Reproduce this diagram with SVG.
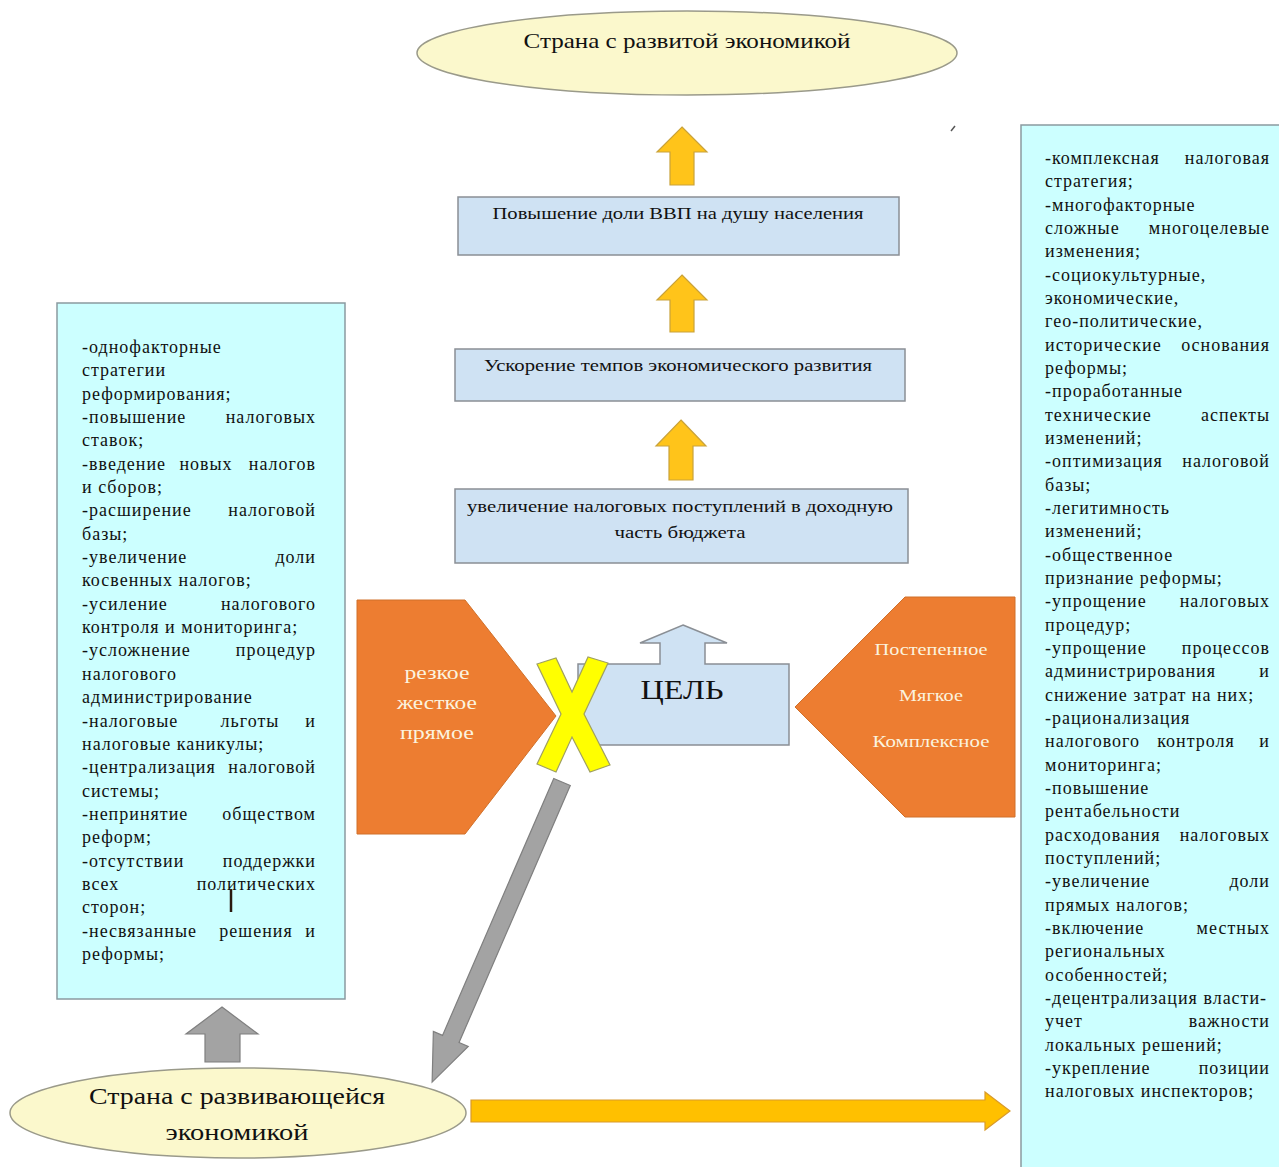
<svg xmlns="http://www.w3.org/2000/svg" width="1279" height="1167" viewBox="0 0 1279 1167">
<style>
.bg{fill:#ffffff}
.ell{fill:#fbf8cc;stroke:#9a9a8a;stroke-width:1.5}
.box{fill:#cfe2f3;stroke:#8a8f95;stroke-width:1.5}
.cyan{fill:#ccffff;stroke:#8a9aa0;stroke-width:1.5}
.yarr{fill:#ffc41a;stroke:#c9a23a;stroke-width:1.2}
.garr{fill:#a3a3a3;stroke:#7f7f7f;stroke-width:1.2}
.orange{fill:#ed7d31;stroke:#d0702a;stroke-width:1}
.xmark{fill:#ffff00;stroke:#a0a060;stroke-width:1.2}
.t{font-family:"Liberation Serif","Times New Roman",serif;font-size:18px;fill:#111111;letter-spacing:1px}
.e{text-anchor:end}
.m{text-anchor:middle}
.c{font-family:"Liberation Serif","Times New Roman",serif;fill:#111111;text-anchor:middle}
.w{font-family:"Liberation Serif","Times New Roman",serif;fill:#fbf3df;text-anchor:middle}
</style>
<rect class="bg" x="0" y="0" width="1279" height="1167"/>

<g id="connectors">
  <path class="yarr" d="M682,127 L707,152 L694,152 L694,185 L670,185 L670,152 L657,152 Z"/>
  <path class="yarr" d="M682,275 L707,300 L694,300 L694,332 L670,332 L670,300 L657,300 Z"/>
  <path class="yarr" d="M681,420 L706,446 L693,446 L693,480 L669,480 L669,446 L656,446 Z"/>
  <g transform="translate(562,782) rotate(23.4)">
    <path class="garr" d="M-9,0 L9,0 L9,280 L19,280 L0,327 L-19,280 L-9,280 Z"/>
  </g>
  <path class="garr" d="M222,1007 L258,1034 L240,1034 L240,1062 L205,1062 L205,1034 L186,1034 Z"/>
  <path class="yarr" d="M471,1100 L985,1100 L985,1092 L1010,1111 L985,1130 L985,1122 L471,1122 Z" style="fill:#ffc000;stroke:#d99a2a"/>
</g>

<g id="node-developed">
  <ellipse class="ell" cx="687" cy="53" rx="270" ry="42"/>
  <text class="c" x="687" y="48" font-size="22" textLength="327" lengthAdjust="spacingAndGlyphs">Страна с развитой экономикой</text>
</g>

<g id="node-gdp">
  <rect class="box" x="458" y="197" width="441" height="58"/>
  <text class="c" x="678" y="219" font-size="17" textLength="371" lengthAdjust="spacingAndGlyphs">Повышение доли ВВП на душу населения</text>
</g>

<g id="node-growth">
  <rect class="box" x="455" y="349" width="450" height="52"/>
  <text class="c" x="678" y="371" font-size="17" textLength="388" lengthAdjust="spacingAndGlyphs">Ускорение темпов экономического развития</text>
</g>

<g id="node-revenue">
  <rect class="box" x="455" y="489" width="453" height="74"/>
  <text class="c" x="680" y="512" font-size="17" textLength="426" lengthAdjust="spacingAndGlyphs">увеличение налоговых поступлений в доходную</text>
  <text class="c" x="680" y="538" font-size="17" textLength="131" lengthAdjust="spacingAndGlyphs">часть бюджета</text>
</g>

<g id="node-goal">
  <path class="box" d="M683,625 L727,643 L705,643 L705,664 L789,664 L789,745 L578,745 L578,664 L660,664 L660,643 L640,643 Z"/>
  <text class="c" x="682" y="699" font-size="28" textLength="83" lengthAdjust="spacingAndGlyphs">ЦЕЛЬ</text>
</g>

<g id="node-hard">
  <path class="orange" d="M357,600 L465,600 L556,716 L465,834 L357,834 Z"/>
  <text class="w" x="437" y="679" font-size="19" textLength="65" lengthAdjust="spacingAndGlyphs">резкое</text>
  <text class="w" x="437" y="709" font-size="19" textLength="80" lengthAdjust="spacingAndGlyphs">жесткое</text>
  <text class="w" x="437" y="739" font-size="19" textLength="74" lengthAdjust="spacingAndGlyphs">прямое</text>
</g>

<g id="node-x">
  <path class="xmark" d="M537,664 L556,658 L572,692 L588,657 L608,663 L584,714 L610,765 L590,772 L572,737 L556,772 L537,764 L561,714 Z"/>
</g>

<g id="node-soft">
  <path class="orange" d="M795,707 L905,597 L1015,597 L1015,817 L905,817 Z"/>
  <text class="w" x="931" y="655" font-size="16" textLength="113" lengthAdjust="spacingAndGlyphs">Постепенное</text>
  <text class="w" x="931" y="701" font-size="16" textLength="64" lengthAdjust="spacingAndGlyphs">Мягкое</text>
  <text class="w" x="931" y="747" font-size="16" textLength="117" lengthAdjust="spacingAndGlyphs">Комплексное</text>
</g>

<g id="node-developing">
  <ellipse class="ell" cx="238" cy="1113" rx="228" ry="45"/>
  <text class="c" x="237" y="1104" font-size="23" textLength="296" lengthAdjust="spacingAndGlyphs">Страна с развивающейся</text>
  <text class="c" x="237" y="1140" font-size="23" textLength="143" lengthAdjust="spacingAndGlyphs">экономикой</text>
</g>

<g id="node-left-list">
  <rect class="cyan" x="57" y="303" width="288" height="696"/>
  <text class="t" x="82" y="353">-однофакторные</text>
  <text class="t" x="82" y="376">стратегии</text>
  <text class="t" x="82" y="400">реформирования;</text>
  <text class="t" x="82" y="423">-повышение</text><text class="t e" x="316" y="423">налоговых</text>
  <text class="t" x="82" y="446">ставок;</text>
  <text class="t" x="82" y="470">-введение</text><text class="t m" x="206" y="470">новых</text><text class="t e" x="316" y="470">налогов</text>
  <text class="t" x="82" y="493">и сборов;</text>
  <text class="t" x="82" y="516">-расширение</text><text class="t e" x="316" y="516">налоговой</text>
  <text class="t" x="82" y="540">базы;</text>
  <text class="t" x="82" y="563">-увеличение</text><text class="t e" x="316" y="563">доли</text>
  <text class="t" x="82" y="586">косвенных налогов;</text>
  <text class="t" x="82" y="610">-усиление</text><text class="t e" x="316" y="610">налогового</text>
  <text class="t" x="82" y="633">контроля и мониторинга;</text>
  <text class="t" x="82" y="656">-усложнение</text><text class="t e" x="316" y="656">процедур</text>
  <text class="t" x="82" y="680">налогового</text>
  <text class="t" x="82" y="703">администрирование</text>
  <text class="t" x="82" y="727">-налоговые</text><text class="t m" x="250" y="727">льготы</text><text class="t e" x="316" y="727">и</text>
  <text class="t" x="82" y="750">налоговые каникулы;</text>
  <text class="t" x="82" y="773">-централизация</text><text class="t e" x="316" y="773">налоговой</text>
  <text class="t" x="82" y="797">системы;</text>
  <text class="t" x="82" y="820">-непринятие</text><text class="t e" x="316" y="820">обществом</text>
  <text class="t" x="82" y="843">реформ;</text>
  <text class="t" x="82" y="867">-отсутствии</text><text class="t e" x="316" y="867">поддержки</text>
  <text class="t" x="82" y="890">всех</text><text class="t e" x="316" y="890">политических</text>
  <text class="t" x="82" y="913">сторон;</text>
  <text class="t" x="82" y="937">-несвязанные</text><text class="t m" x="256" y="937">решения</text><text class="t e" x="316" y="937">и</text>
  <text class="t" x="82" y="960">реформы;</text>
  <line x1="231" y1="889" x2="231" y2="912" stroke="#2a1a10" stroke-width="2.5"/>
</g>

<g id="node-right-list">
  <rect class="cyan" x="1021" y="125" width="270" height="1060"/>
  <text class="t" x="1045" y="164">-комплексная</text><text class="t e" x="1270" y="164">налоговая</text>
  <text class="t" x="1045" y="187">стратегия;</text>
  <text class="t" x="1045" y="211">-многофакторные</text>
  <text class="t" x="1045" y="234">сложные</text><text class="t e" x="1270" y="234">многоцелевые</text>
  <text class="t" x="1045" y="257">изменения;</text>
  <text class="t" x="1045" y="281">-социокультурные,</text>
  <text class="t" x="1045" y="304">экономические,</text>
  <text class="t" x="1045" y="327">гео-политические,</text>
  <text class="t" x="1045" y="351">исторические</text><text class="t e" x="1270" y="351">основания</text>
  <text class="t" x="1045" y="374">реформы;</text>
  <text class="t" x="1045" y="397">-проработанные</text>
  <text class="t" x="1045" y="421">технические</text><text class="t e" x="1270" y="421">аспекты</text>
  <text class="t" x="1045" y="444">изменений;</text>
  <text class="t" x="1045" y="467">-оптимизация</text><text class="t e" x="1270" y="467">налоговой</text>
  <text class="t" x="1045" y="491">базы;</text>
  <text class="t" x="1045" y="514">-легитимность</text>
  <text class="t" x="1045" y="537">изменений;</text>
  <text class="t" x="1045" y="561">-общественное</text>
  <text class="t" x="1045" y="584">признание реформы;</text>
  <text class="t" x="1045" y="607">-упрощение</text><text class="t e" x="1270" y="607">налоговых</text>
  <text class="t" x="1045" y="631">процедур;</text>
  <text class="t" x="1045" y="654">-упрощение</text><text class="t e" x="1270" y="654">процессов</text>
  <text class="t" x="1045" y="677">администрирования</text><text class="t e" x="1270" y="677">и</text>
  <text class="t" x="1045" y="701">снижение затрат на них;</text>
  <text class="t" x="1045" y="724">-рационализация</text>
  <text class="t" x="1045" y="747">налогового</text><text class="t m" x="1196" y="747">контроля</text><text class="t e" x="1270" y="747">и</text>
  <text class="t" x="1045" y="771">мониторинга;</text>
  <text class="t" x="1045" y="794">-повышение</text>
  <text class="t" x="1045" y="817">рентабельности</text>
  <text class="t" x="1045" y="841">расходования</text><text class="t e" x="1270" y="841">налоговых</text>
  <text class="t" x="1045" y="864">поступлений;</text>
  <text class="t" x="1045" y="887">-увеличение</text><text class="t e" x="1270" y="887">доли</text>
  <text class="t" x="1045" y="911">прямых налогов;</text>
  <text class="t" x="1045" y="934">-включение</text><text class="t e" x="1270" y="934">местных</text>
  <text class="t" x="1045" y="957">региональных</text>
  <text class="t" x="1045" y="981">особенностей;</text>
  <text class="t" x="1045" y="1004">-децентрализация власти-</text>
  <text class="t" x="1045" y="1027">учет</text><text class="t e" x="1270" y="1027">важности</text>
  <text class="t" x="1045" y="1051">локальных решений;</text>
  <text class="t" x="1045" y="1074">-укрепление</text><text class="t e" x="1270" y="1074">позиции</text>
  <text class="t" x="1045" y="1097">налоговых инспекторов;</text>
</g>

<line x1="951" y1="131" x2="955" y2="126" stroke="#555" stroke-width="1.5"/>
</svg>
